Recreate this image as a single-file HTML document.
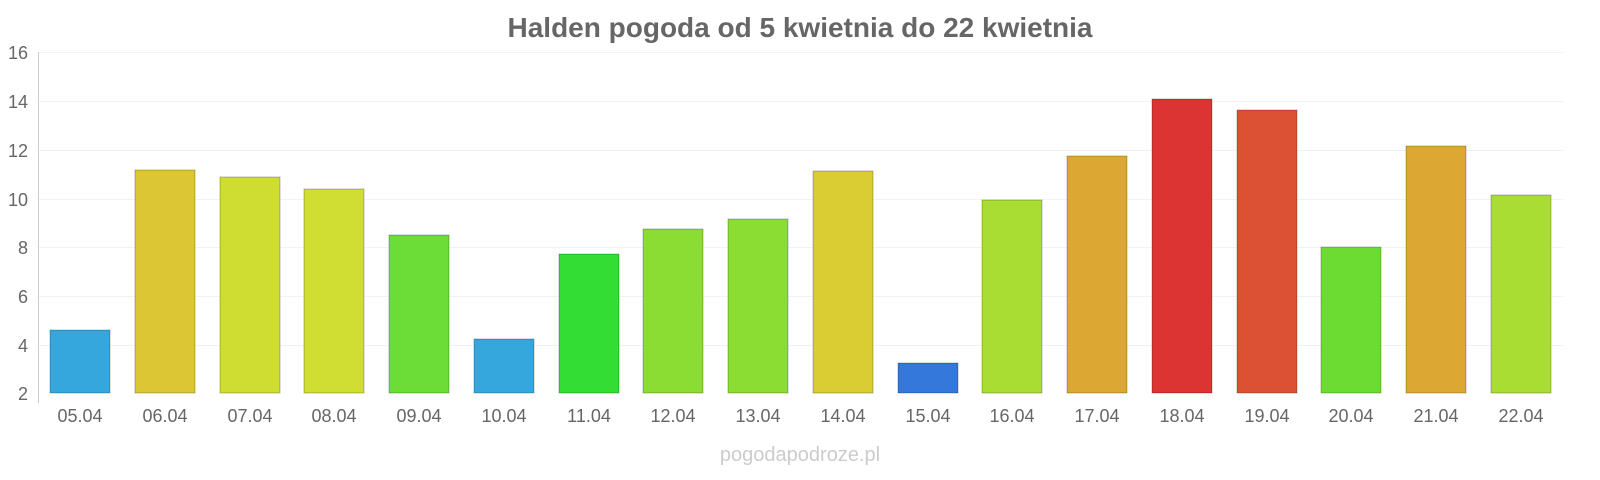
<!DOCTYPE html>
<html><head><meta charset="utf-8"><style>
html,body{margin:0;padding:0;background:#fff;}
svg{display:block;font-family:"Liberation Sans",sans-serif;}
</style></head><body>
<svg width="1600" height="480" viewBox="0 0 1600 480">
<text x="800" y="37" text-anchor="middle" font-size="28" font-weight="bold" fill="#666">Halden pogoda od 5 kwietnia do 22 kwietnia</text>
<g stroke="#f2f2f2" stroke-width="1">
<line x1="38" x2="1563" y1="52.5" y2="52.5"/>
<line x1="38" x2="1563" y1="101.5" y2="101.5"/>
<line x1="38" x2="1563" y1="150.5" y2="150.5"/>
<line x1="38" x2="1563" y1="199.5" y2="199.5"/>
<line x1="38" x2="1563" y1="247.5" y2="247.5"/>
<line x1="38" x2="1563" y1="296.5" y2="296.5"/>
<line x1="38" x2="1563" y1="345.5" y2="345.5"/>
</g>
<line x1="38.5" x2="38.5" y1="52" y2="403" stroke="#ccc"/>
<g font-size="18" fill="#666" text-anchor="end">
<text x="28" y="59">16</text><text x="28" y="108">14</text><text x="28" y="157">12</text>
<text x="28" y="206">10</text><text x="28" y="254">8</text><text x="28" y="303">6</text>
<text x="28" y="352">4</text><text x="28" y="400">2</text>
</g>
<g stroke-opacity="0.25" stroke="#000" stroke-width="1">
<rect x="50" y="330" width="60" height="63" fill="#35a7dc"/>
<rect x="135" y="170" width="60" height="223" fill="#dcc633"/>
<rect x="220" y="177" width="60" height="216" fill="#cfdd33"/>
<rect x="304" y="189" width="60" height="204" fill="#d0dd33"/>
<rect x="389" y="235" width="60" height="158" fill="#6cdc36"/>
<rect x="474" y="339" width="60" height="54" fill="#35a7dc"/>
<rect x="559" y="254" width="60" height="139" fill="#33dd33"/>
<rect x="643" y="229" width="60" height="164" fill="#8bdc33"/>
<rect x="728" y="219" width="60" height="174" fill="#8bdc33"/>
<rect x="813" y="171" width="60" height="222" fill="#dacc33"/>
<rect x="898" y="363" width="60" height="30" fill="#3478dc"/>
<rect x="982" y="200" width="60" height="193" fill="#aadd33"/>
<rect x="1067" y="156" width="60" height="237" fill="#dca833"/>
<rect x="1152" y="99" width="60" height="294" fill="#dc3333"/>
<rect x="1237" y="110" width="60" height="283" fill="#dc5033"/>
<rect x="1321" y="247" width="60" height="146" fill="#6cdc33"/>
<rect x="1406" y="146" width="60" height="247" fill="#dca833"/>
<rect x="1491" y="195" width="60" height="198" fill="#aadd33"/>
</g>
<g font-size="18" fill="#666" text-anchor="middle">
<text x="80" y="422">05.04</text><text x="165" y="422">06.04</text><text x="250" y="422">07.04</text>
<text x="334" y="422">08.04</text><text x="419" y="422">09.04</text><text x="504" y="422">10.04</text>
<text x="589" y="422">11.04</text><text x="673" y="422">12.04</text><text x="758" y="422">13.04</text>
<text x="843" y="422">14.04</text><text x="928" y="422">15.04</text><text x="1012" y="422">16.04</text>
<text x="1097" y="422">17.04</text><text x="1182" y="422">18.04</text><text x="1267" y="422">19.04</text>
<text x="1351" y="422">20.04</text><text x="1436" y="422">21.04</text><text x="1521" y="422">22.04</text>
</g>
<text x="800" y="461" text-anchor="middle" font-size="20" fill="#ccc">pogodapodroze.pl</text>
</svg>
</body></html>
